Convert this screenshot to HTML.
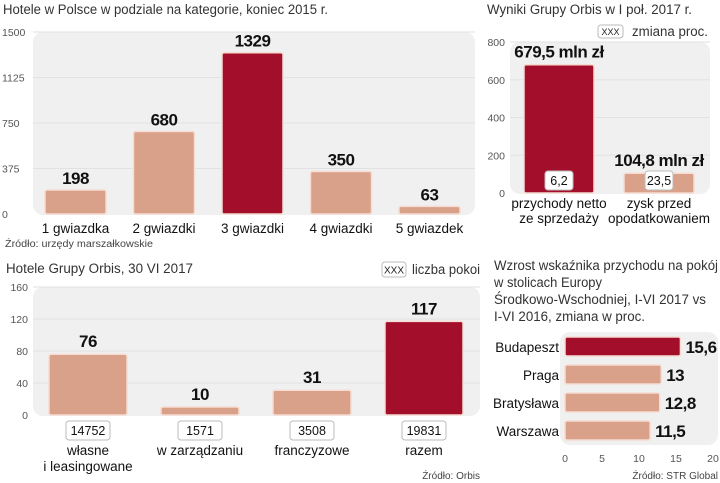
<!DOCTYPE html>
<html><head><meta charset="utf-8">
<style>
body{margin:0;background:#fff;width:720px;height:483px;overflow:hidden}
svg{display:block}
text{font-family:"Liberation Sans Narrow","Liberation Sans",sans-serif}
.t{font-size:13.5px;fill:#333}
.ax{font-size:10.5px;fill:#555}
.cat{font-size:13.5px;fill:#111}
.val{font-size:17px;font-weight:bold;fill:#111;letter-spacing:-0.5px}
.src{font-size:10px;fill:#444}
</style></head>
<body>
<svg id="svg" width="720" height="483" xmlns="http://www.w3.org/2000/svg">
<text class="t" x="3" y="14" textLength="325" lengthAdjust="spacingAndGlyphs">Hotele w Polsce w podziale na kategorie, koniec 2015 r.</text>
<rect x="33" y="32" width="442" height="183" rx="10" fill="#f0f0f0"/>
<g id="c1"></g>
<text class="src" x="5" y="247" textLength="148" lengthAdjust="spacingAndGlyphs">Źródło: urzędy marszałkowskie</text>

<text class="t" x="487" y="14" textLength="205" lengthAdjust="spacingAndGlyphs">Wyniki Grupy Orbis w I poł. 2017 r.</text>
<rect x="598" y="25" width="25" height="13" rx="3" fill="#fff" stroke="#bbb"/>
<text x="610.5" y="35" text-anchor="middle" style="font-size:9px;fill:#222">XXX</text>
<text class="t" x="632" y="36" textLength="76" lengthAdjust="spacingAndGlyphs">zmiana proc.</text>
<rect x="510" y="42" width="200" height="152" rx="10" fill="#f0f0f0"/>
<g id="c2"></g>

<text class="t" x="6" y="273" textLength="187" lengthAdjust="spacingAndGlyphs">Hotele Grupy Orbis, 30 VI 2017</text>
<rect x="382" y="262" width="24" height="15" rx="3" fill="#fff" stroke="#bbb"/>
<text x="394" y="273.5" text-anchor="middle" style="font-size:10px;fill:#222">XXX</text>
<text class="t" x="412" y="274" textLength="68" lengthAdjust="spacingAndGlyphs">liczba pokoi</text>
<rect x="33" y="287" width="447" height="129" rx="10" fill="#f0f0f0"/>
<g id="c3"></g>
<text class="src" x="480" y="479" text-anchor="end">Źródło: Orbis</text>

<g>
<text class="t" x="494" y="270" textLength="224" lengthAdjust="spacingAndGlyphs">Wzrost wskaźnika przychodu na pokój</text>
<text class="t" x="494" y="287" textLength="108" lengthAdjust="spacingAndGlyphs">w stolicach Europy</text>
<text class="t" x="494" y="304" textLength="212" lengthAdjust="spacingAndGlyphs">Środkowo-Wschodniej, I-VI 2017 vs</text>
<text class="t" x="494" y="321" textLength="151" lengthAdjust="spacingAndGlyphs">I-VI 2016, zmiana w proc.</text>
</g>
<rect x="560" y="332" width="158" height="113" rx="10" fill="#f0f0f0"/>
<g id="c4"></g>
<text class="src" x="718" y="479" text-anchor="end">Źródło: STR Global</text>
</svg>
<script>
// Chart 1 data
const c1Categories=["1 gwiazdka","2 gwiazdki","3 gwiazdki","4 gwiazdki","5 gwiazdek"];
const c1Values=[198,680,1329,350,63];
const c1Ticks=[0,375,750,1125,1500];
// Chart 2 data
const c2Categories=[["przychody netto","ze sprzedaży"],["zysk przed","opodatkowaniem"]];
const c2Values=[679.5,104.8];
const c2Labels=["679,5 mln zł","104,8 mln zł"];
const c2Change=["6,2","23,5"];
const c2Ticks=[0,200,400,600,800];
// Chart 3 data
const c3Categories=[["własne","i leasingowane"],["w zarządzaniu"],["franczyzowe"],["razem"]];
const c3Values=[76,10,31,117];
const c3Rooms=["14752","1571","3508","19831"];
const c3Ticks=[0,40,80,120,160];
// Chart 4 data
const c4Categories=["Budapeszt","Praga","Bratysława","Warszawa"];
const c4Values=[15.6,13,12.8,11.5];
const c4Labels=["15,6","13","12,8","11,5"];
const c4Ticks=[0,5,10,15,20];

const NS="http://www.w3.org/2000/svg";
const DARK="#a30f2b",LIGHT="#d9a08a";
function mk(parent,tag,attrs,txt){const e=document.createElementNS(NS,tag);for(const k in attrs)e.setAttribute(k,attrs[k]);if(txt!==undefined)e.textContent=txt;parent.appendChild(e);return e;}

// Chart 1
(function(){
 const g=document.getElementById('c1');
 const y0=214,y1=32,max=1500;const y=v=>y0-(y0-y1)*v/max;
 const x0=45,step=88.5,bw=61;
 c1Ticks.forEach(t=>{
  if(t>0){const l=mk(g,'line',{x1:33,x2:475,y1:y(t),y2:y(t),stroke:'#e2e2e2'});
  
  }
  const tx=mk(g,'text',{class:'ax',x:2,y:y(t)+4},t);
  
  
 });
 c1Values.forEach((v,i)=>{
  const x=x0+i*step;
  const r=mk(g,'rect',{x:x,y:y(v),width:bw,height:y0-y(v),rx:2,fill:i==2?DARK:LIGHT,stroke:'#f6dcd2','stroke-width':1.5});
  
  
  const t=mk(g,'text',{class:'val',x:x+bw/2,y:y(v)-6,'text-anchor':'middle'},v);
  
  
  const c=mk(g,'text',{class:'cat',x:x+bw/2,y:233,'text-anchor':'middle'},c1Categories[i]);
  
  
 });
})();

// Chart 2
(function(){
 const g=document.getElementById('c2');
 const y0=193,y1=42,max=800;const y=v=>y0-(y0-y1)*v/max;
 const xs=[524,624],bw=70;
 c2Ticks.forEach(t=>{
  if(t>0){const l=mk(g,'line',{x1:510,x2:710,y1:y(t),y2:y(t),stroke:'#e2e2e2'});
  
  }
  const tx=mk(g,'text',{class:'ax',x:505,y:y(t)+4,'text-anchor':'end'},t);
  
  
 });
 c2Values.forEach((v,i)=>{
  const x=xs[i];
  const r=mk(g,'rect',{x:x,y:y(v),width:bw,height:y0-y(v),rx:2,fill:i==0?DARK:LIGHT,stroke:'#f6dcd2','stroke-width':1.5});
  
  
  const t=mk(g,'text',{class:'val',x:x+bw/2,y:y(v)-7,'text-anchor':'middle'},c2Labels[i]);
  
  
  const b=mk(g,'rect',{x:x+bw/2-14,y:171,width:28,height:19,rx:3,fill:'#fff',stroke:'#bbb'});
  
  
  const ct=mk(g,'text',{x:x+bw/2,y:185,'text-anchor':'middle',style:'font-size:12.5px;fill:#111'},c2Change[i]);
  
  
  c2Categories[i].forEach((ln,j)=>{
   const c=mk(g,'text',{class:'cat',x:x+bw/2,y:208+j*15,'text-anchor':'middle'},ln);
   
   
  });
 });
})();

// Chart 3
(function(){
 const g=document.getElementById('c3');
 const y0=415,y1=287,max=160;const y=v=>y0-(y0-y1)*v/max;
 const x0=49,step=112,bw=78;
 c3Ticks.forEach(t=>{
  if(t>0){const l=mk(g,'line',{x1:33,x2:480,y1:y(t),y2:y(t),stroke:'#e2e2e2'});
  
  }
  const tx=mk(g,'text',{class:'ax',x:28,y:y(t)+4,'text-anchor':'end'},t);
  
  
 });
 c3Values.forEach((v,i)=>{
  const x=x0+i*step;
  const r=mk(g,'rect',{x:x,y:y(v),width:bw,height:y0-y(v),rx:2,fill:i==3?DARK:LIGHT,stroke:'#f6dcd2','stroke-width':1.5});
  
  
  const t=mk(g,'text',{class:'val',x:x+bw/2,y:y(v)-7,'text-anchor':'middle'},v);
  
  
  const b=mk(g,'rect',{x:x+bw/2-22,y:421,width:44,height:19,rx:3,fill:'#fff',stroke:'#bbb'});
  
  
  const ct=mk(g,'text',{x:x+bw/2,y:435,'text-anchor':'middle',style:'font-size:12.5px;fill:#111'},c3Rooms[i]);
  
  
  c3Categories[i].forEach((ln,j)=>{
   const c=mk(g,'text',{class:'cat',x:x+bw/2,y:455+j*16,'text-anchor':'middle'},ln);
   
   
  });
 });
})();

// Chart 4
(function(){
 const g=document.getElementById('c4');
 const x0=565,x1=713,max=20;const x=v=>x0+(x1-x0)*v/max;
 const ys=[337,365,393,421],bh=19;
 c4Ticks.forEach(t=>{
  const tx=mk(g,'text',{class:'ax',x:x(t),y:462,'text-anchor':'middle'},t);
  
  
 });
 c4Values.forEach((v,i)=>{
  const yy=ys[i];
  const r=mk(g,'rect',{x:x0,y:yy,width:x(v)-x0,height:bh,rx:2,fill:i==0?DARK:LIGHT,stroke:'#f6dcd2','stroke-width':1.5});
  
  
  const t=mk(g,'text',{class:'val',x:x(v)+5,y:yy+16},c4Labels[i]);
  
  
  const c=mk(g,'text',{class:'cat',x:559,y:yy+15,'text-anchor':'end'},c4Categories[i]);
  
  
 });
})();
</script>
</body></html>
